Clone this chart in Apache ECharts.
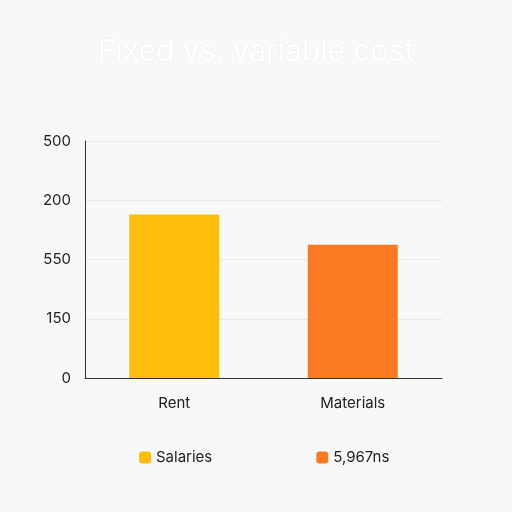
<!DOCTYPE html>
<html><head><meta charset="utf-8">
<script src="https://cdn.jsdelivr.net/npm/echarts@6/dist/echarts.min.js"></script>
<style>html,body{margin:0;background:#f7f8fa}#main{width:512px;height:512px}</style>
</head><body><div id="main"></div>
<script>
var categories = ['Rent', 'Materials'];
var tickLabels = ['0', '150', '550', '200', '500'];
var seriesNames = ['Salaries', '5,967ns'];
var fixedValues = [2.76, null];
var variableValues = [null, 2.25];

var myChart = echarts.init(document.getElementById('main'));
myChart.setOption({
  backgroundColor: '#f7f8fa',
  title: {
    text: 'Fixed vs. variable cost', left: 'center', top: 32,
    textStyle: { color: '#ffffff', fontSize: 30, fontWeight: 'normal', fontFamily: 'Inter', textShadowColor: 'rgba(0,0,0,0.08)', textShadowBlur: 2 }
  },
  legend: {
    data: seriesNames, left: 134, top: 445, itemGap: 104, itemWidth: 12, itemHeight: 12,
    textStyle: { fontSize: 15, color: '#222', fontFamily: 'Inter' }
  },
  grid: { left: 85, right: 70, top: 141, bottom: 134 },
  xAxis: {
    type: 'category', data: categories,
    axisLine: { lineStyle: { color: '#333' } }, axisTick: { show: false },
    axisLabel: { fontSize: 15, color: '#222', margin: 18, fontFamily: 'Inter' }
  },
  yAxis: {
    type: 'value', min: 0, max: 4, interval: 1,
    axisLine: { show: true, lineStyle: { color: '#333' } },
    splitLine: { lineStyle: { color: '#e6e8ec' } },
    axisLabel: { fontSize: 15, color: '#222', margin: 14, fontFamily: 'Inter',
      formatter: function (v) { return tickLabels[v]; } }
  },
  series: [
    { name: seriesNames[0], type: 'bar', data: fixedValues, barWidth: 90, barGap: '-100%', itemStyle: { color: '#fdbd0a' } },
    { name: seriesNames[1], type: 'bar', data: variableValues, barWidth: 90, itemStyle: { color: '#fa7a22' } }
  ]
});
</script></body></html>
